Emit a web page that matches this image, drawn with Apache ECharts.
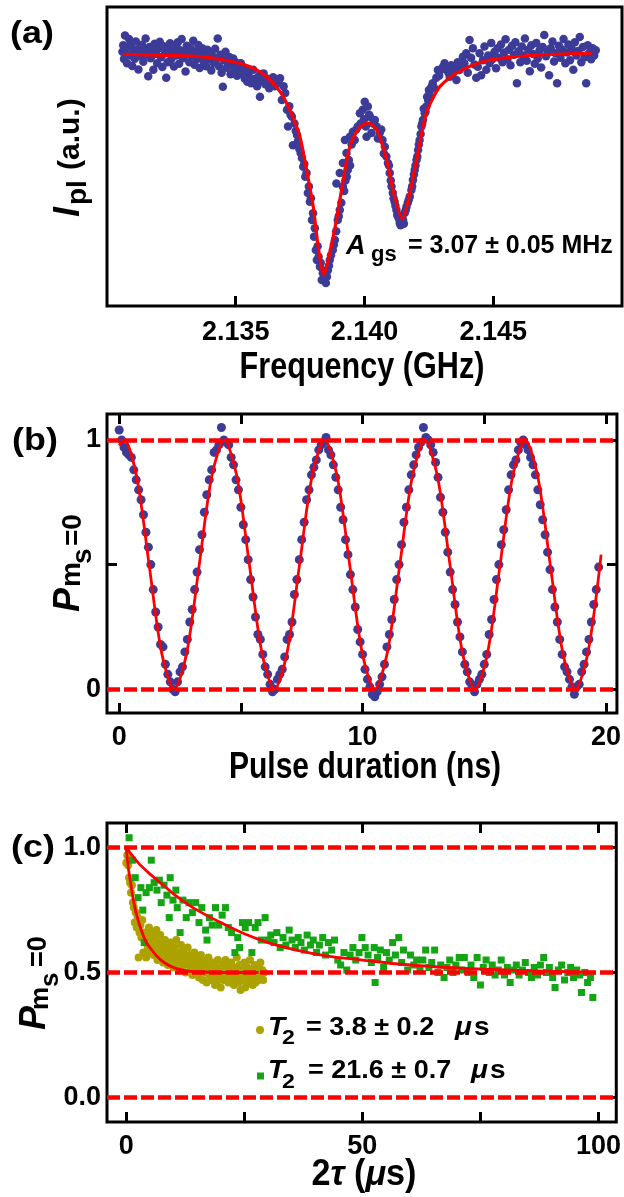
<!DOCTYPE html>
<html><head><meta charset="utf-8">
<script src="https://cdn.jsdelivr.net/npm/echarts@6.0.0/dist/echarts.min.js"></script>
<style>html,body{margin:0;padding:0;background:#fff}#c{width:624px;height:1197px}</style>
</head><body><div id="c"></div>
<script>
// ---------- Panel (a): ODMR spectrum, frequency (GHz) vs I_pl (a.u.) ----------
const freqTicks = [2.135, 2.140, 2.145];
const pointsA = [
[2.13060,.850],[2.13063,.872],[2.13066,.826],[2.13070,.905],[2.13074,.845],[2.13078,.812],[2.13082,.868],[2.13086,.893],[2.13090,.838],[2.13094,.880],
[2.13098,.803],[2.13103,.858],[2.13108,.827],[2.13112,.885],[2.13117,.848],[2.13122,.791],[2.13127,.862],[2.13131,.836],[2.13136,.874],[2.13141,.817],
[2.13146,.855],[2.13150,.895],[2.13155,.840],[2.13160,.768],[2.13165,.866],[2.13170,.829],[2.13175,.851],[2.13180,.790],[2.13185,.877],[2.13190,.843],
[2.13195,.812],[2.13200,.861],[2.13205,.884],[2.13210,.832],[2.13215,.799],[2.13220,.869],[2.13225,.845],[2.13230,.763],[2.13235,.815],[2.13240,.858],
[2.13245,.879],[2.13250,.826],[2.13255,.850],[2.13260,.801],[2.13265,.866],[2.13270,.838],[2.13275,.882],[2.13280,.810],[2.13285,.855],[2.13290,.893],
[2.13295,.829],[2.13300,.847],[2.13305,.784],[2.13310,.870],[2.13315,.842],[2.13320,.815],[2.13325,.862],[2.13330,.835],[2.13335,.887],[2.13340,.807],
[2.13345,.851],[2.13350,.827],[2.13355,.873],[2.13360,.796],[2.13365,.845],[2.13370,.862],[2.13375,.818],[2.13380,.838],[2.13385,.802],[2.13390,.857],
[2.13395,.826],[2.13400,.843],[2.13405,.788],[2.13410,.835],[2.13415,.812],[2.13420,.860],[2.13425,.826],[2.13430,.895],[2.13435,.802],[2.13440,.840],
[2.13445,.780],[2.13450,.733],[2.13455,.822],[2.13460,.850],[2.13465,.797],[2.13470,.812],[2.13475,.833],[2.13480,.775],[2.13485,.808],[2.13490,.828],
[2.13495,.790],[2.13500,.815],[2.13505,.770],[2.13510,.800],[2.13515,.785],[2.13520,.812],[2.13525,.777],[2.13530,.795],[2.13535,.760],[2.13540,.785],
[2.13545,.750],[2.13550,.772],[2.13555,.790],
[2.13560,.745],[2.13568,.790],[2.13575,.760],[2.13583,.735],[2.13590,.770],[2.13594,.700],[2.13600,.752],[2.13608,.778],[2.13615,.742],[2.13622,.760],
[2.13630,.728],[2.13638,.748],[2.13645,.765],[2.13652,.735],[2.13660,.758],[2.13665,.745],[2.13672,.762],[2.13679,.689],[2.13686,.735],[2.13692,.712],
[2.13699,.656],[2.13703,.600],[2.13708,.668],[2.13713,.640],[2.13718,.633],[2.13722,.538],[2.13728,.610],[2.13733,.585],[2.13738,.572],[2.13742,.552],
[2.13747,.525],[2.13752,.512],[2.13757,.495],[2.13762,.466],[2.13766,.475],[2.13770,.432],[2.13775,.445],[2.13780,.378],[2.13784,.400],[2.13788,.349],
[2.13792,.360],[2.13796,.288],[2.13800,.310],[2.13804,.232],[2.13807,.260],[2.13811,.187],[2.13815,.154],[2.13818,.200],[2.13822,.165],[2.13827,.131],
[2.13830,.145],[2.13834,.087],[2.13838,.110],[2.13842,.095],[2.13846,.118],[2.13850,.077],[2.13854,.098],[2.13858,.120],[2.13862,.135],[2.13865,.154],
[2.13870,.170],[2.13877,.187],[2.13881,.205],[2.13885,.221],[2.13890,.250],[2.13896,.288],[2.13900,.300],[2.13904,.321],[2.13910,.345],[2.13916,.399],
[2.13921,.385],[2.13926,.420],[2.13931,.432],[2.13935,.455],[2.13939,.488],[2.13944,.470],
[2.13891,.410],[2.13904,.445],[2.13916,.478],[2.13930,.512],[2.13924,.555],[2.13943,.566],[2.13955,.583],[2.13962,.555],[2.13974,.600],[2.13982,.645],
[2.13993,.656],[2.14001,.683],[2.14013,.667],[2.14021,.633],[2.14008,.566],[2.14027,.579],[2.14040,.622],[2.14047,.600],[2.14059,.579],[2.14070,.555],
[2.14079,.533],[2.14085,.500],[2.14091,.478],[2.14098,.445],[2.14105,.400],[2.14110,.378],[2.14117,.349],[2.14124,.321],[2.14130,.299],[2.14137,.278],
[2.14143,.285],[2.14150,.288],[2.14156,.311],[2.14163,.332],[2.14176,.366],[2.14182,.388],[2.14188,.421],[2.14195,.455],[2.14202,.488],[2.14208,.522],
[2.14214,.555],[2.14221,.600],[2.14227,.622],[2.14234,.645],[2.14240,.667],[2.14247,.689],[2.14253,.717],[2.14250,.722],[2.14260,.733],[2.14279,.763],
[2.14285,.789],[2.14305,.800],[2.14311,.812],[2.14331,.767],[2.14343,.778],[2.14357,.756],[2.14369,.789],[2.14382,.834],[2.14395,.845],[2.14408,.890],
[2.14421,.862],[2.14434,.763],
[2.13950,.540],[2.13968,.590],[2.13985,.610],[2.13998,.625],[2.14005,.600],[2.14018,.640],[2.14033,.610],[2.14052,.560],[2.14065,.590],[2.14075,.510],
[2.14095,.470],[2.14102,.420],[2.14113,.360],[2.14120,.335],[2.14127,.305],[2.14134,.292],[2.14140,.270],[2.14146,.300],[2.14153,.275],[2.14160,.320],
[2.14168,.345],[2.14172,.355],[2.14185,.400],[2.14192,.440],[2.14198,.470],[2.14205,.500],[2.14211,.540],[2.14218,.575],[2.14224,.610],[2.14230,.660],
[2.14237,.650],[2.14243,.700],[2.14256,.700],[2.14265,.745],[2.14270,.730],[2.14290,.770],[2.14298,.790],[2.14318,.800],[2.14325,.782],[2.14337,.805],
[2.14350,.790],[2.14362,.815],[2.14375,.800],[2.14388,.812],[2.14401,.780],[2.14414,.830],[2.14427,.808],
[2.14440,.800],[2.14447,.845],[2.14453,.772],[2.14460,.822],[2.14466,.868],[2.14473,.790],[2.14480,.838],[2.14486,.812],[2.14492,.880],[2.14498,.826],
[2.14505,.850],[2.14511,.795],[2.14517,.862],[2.14523,.830],[2.14530,.875],[2.14536,.815],[2.14542,.848],[2.14548,.892],[2.14555,.825],[2.14561,.857],
[2.14567,.805],[2.14573,.870],[2.14580,.840],[2.14586,.882],[2.14592,.745],[2.14598,.852],[2.14605,.815],[2.14611,.868],[2.14617,.838],[2.14623,.895],
[2.14630,.820],[2.14636,.857],[2.14642,.785],[2.14648,.872],[2.14655,.843],[2.14661,.810],[2.14667,.880],[2.14673,.828],[2.14680,.855],[2.14686,.798],
[2.14692,.866],[2.14698,.906],[2.14705,.835],[2.14711,.850],[2.14717,.772],[2.14723,.862],[2.14730,.885],[2.14736,.818],[2.14742,.845],[2.14748,.745],
[2.14755,.870],[2.14761,.830],[2.14767,.858],[2.14773,.893],[2.14780,.812],[2.14786,.848],[2.14792,.875],[2.14798,.822],[2.14805,.860],[2.14811,.790],
[2.14817,.882],[2.14823,.838],[2.14830,.853],[2.14836,.900],[2.14842,.815],[2.14848,.866],[2.14855,.832],[2.14861,.745],[2.14867,.872],[2.14873,.846],
[2.14880,.825],[2.14886,.862],[2.14892,.838],[2.14898,.855]
];
const fitA = [
[2.13062,.842],[2.13233,.838],[2.13362,.834],[2.13490,.817],[2.13555,.800],[2.13620,.767],[2.13672,.717],[2.13710,.656],[2.13749,.566],[2.13775,.455],
[2.13801,.332],[2.13820,.198],[2.13842,.104],[2.13865,.177],[2.13891,.288],[2.13924,.455],[2.13943,.533],[2.13970,.585],[2.13993,.605],[2.14013,.612],
[2.14048,.589],[2.14086,.488],[2.14117,.365],[2.14147,.291],[2.14176,.378],[2.14202,.488],[2.14240,.645],[2.14292,.733],[2.14357,.779],[2.14459,.817],
[2.14589,.834],[2.14740,.842],[2.14885,.846]
];

// ---------- Panel (b): Rabi oscillation, pulse duration (ns) vs P ----------
const pulseTicks = [0, 5, 10, 15, 20];
const pulseLabels = [0, 10, 20];
const probTicksB = [0, 0.5, 1];
const probLabelsB = [0, 1];
const refLinesB = [0, 1];
const pointsB = [
[0.0,1.04],[0.1,1.00],[0.2,.97],[0.3,.95],[0.4,.94],[0.5,.93],[0.6,.88],[0.7,.84],[0.8,.80],[0.9,.76],
[1.0,.70],[1.1,.63],[1.2,.57],[1.3,.50],[1.4,.40],[1.5,.31],[1.6,.25],[1.7,.18],[1.8,.17],[1.9,.10],
[2.0,.06],[2.1,.03],[2.2,.00],[2.3,-.01],[2.4,.03],[2.5,.07],[2.6,.09],[2.7,.15],[2.8,.20],[2.9,.27],
[3.0,.32],[3.1,.40],[3.2,.47],[3.3,.56],[3.4,.62],[3.5,.71],[3.6,.78],[3.7,.84],[3.8,.88],[3.9,.95],
[4.0,.96],[4.1,.98],[4.2,1.05],[4.3,1.00],[4.4,.99],[4.5,.98],[4.6,.93],[4.7,.90],[4.8,.84],[4.9,.80],
[5.0,.73],[5.1,.66],[5.2,.60],[5.3,.52],[5.4,.44],[5.5,.37],[5.6,.29],[5.7,.22],[5.8,.20],[5.9,.14],
[6.0,.09],[6.1,.06],[6.2,.02],[6.3,-.01],[6.4,.00],[6.5,.04],[6.6,.06],[6.7,.08],[6.8,.13],[6.9,.20],
[7.0,.22],[7.1,.27],[7.2,.38],[7.3,.44],[7.4,.52],[7.5,.60],[7.6,.67],[7.7,.76],[7.8,.80],[7.9,.86],
[8.0,.89],[8.1,.92],[8.2,.96],[8.3,.98],[8.4,.99],[8.5,1.01],[8.6,.96],[8.7,.94],[8.8,.90],[8.9,.85],
[9.0,.80],[9.1,.73],[9.2,.68],[9.3,.60],[9.4,.54],[9.5,.46],[9.6,.40],[9.7,.33],[9.8,.24],[9.9,.19],
[10.0,.14],[10.1,.08],[10.2,.04],[10.3,.01],[10.4,-.02],[10.5,-.03],[10.6,-.01],[10.7,.02],[10.8,.05],[10.9,.10],
[11.0,.17],[11.1,.22],[11.2,.28],[11.3,.36],[11.4,.44],[11.5,.50],[11.6,.58],[11.7,.67],[11.8,.73],[11.9,.80],
[12.0,.86],[12.1,.90],[12.2,.94],[12.3,.97],[12.4,.99],[12.5,1.05],[12.6,1.01],[12.7,1.00],[12.8,.98],[12.9,.95],
[13.0,.91],[13.1,.85],[13.2,.77],[13.3,.71],[13.4,.63],[13.5,.55],[13.6,.47],[13.7,.40],[13.8,.34],[13.9,.27],
[14.0,.21],[14.1,.15],[14.2,.10],[14.3,.07],[14.4,.03],[14.5,.01],[14.6,-.01],[14.7,.02],[14.8,.04],[14.9,.06],
[15.0,.10],[15.1,.14],[15.2,.22],[15.3,.28],[15.4,.36],[15.5,.44],[15.6,.50],[15.7,.58],[15.8,.64],[15.9,.72],
[16.0,.80],[16.1,.86],[16.2,.90],[16.3,.92],[16.4,.96],[16.5,.99],[16.6,1.00],[16.7,.98],[16.8,.96],[16.9,.93],
[17.0,.90],[17.1,.86],[17.2,.80],[17.3,.74],[17.4,.68],[17.5,.62],[17.6,.55],[17.7,.48],[17.8,.40],[17.9,.33],
[18.0,.27],[18.1,.20],[18.2,.14],[18.3,.09],[18.4,.07],[18.5,.04],[18.6,.01],[18.7,-.02],[18.8,.01],[18.9,.02],
[19.0,.07],[19.1,.10],[19.2,.15],[19.3,.20],[19.4,.27],[19.5,.34],[19.6,.40],[19.7,.49]
];
const fitB = [
[0.0,.977],[0.2,1.0],[0.715,.854],[1.23,.5],[1.745,.146],[2.26,0],[2.775,.146],[3.29,.5],[3.805,.854],[4.32,1],
[4.835,.854],[5.35,.5],[5.865,.146],[6.38,0],[6.895,.146],[7.41,.5],[7.925,.854],[8.44,1],[8.955,.854],[9.47,.5],
[9.985,.146],[10.5,0],[11.015,.146],[11.53,.5],[12.045,.854],[12.56,1],[13.075,.854],[13.59,.5],[14.105,.146],[14.62,0],
[15.135,.146],[15.65,.5],[16.165,.854],[16.68,1],[17.195,.854],[17.71,.5],[18.225,.146],[18.74,0],[19.255,.146],[19.8,.54]
];

// ---------- Panel (c): spin echo decay, 2tau (us) vs P ----------
const tauTicks = [0, 25, 50, 75, 100];
const tauLabels = [0, 50, 100];
const probTicksC = [0, 0.5, 1];
const refLinesC = [0, 0.5, 1];
const pointsYellow = [
[0.0,.94],[0.2,.97],[0.4,.93],[0.6,.88],[0.8,.86],[1.0,.82],[1.2,.85],[1.4,.78],[1.6,.76],[1.8,.70],
[2.0,.74],[2.2,.68],[2.4,.72],[2.6,.56],[2.8,.66],[3.0,.69],[3.2,.64],[3.4,.71],[3.6,.58],[3.8,.66],
[4.0,.62],[4.2,.56],[4.4,.65],[4.6,.60],[4.8,.68],[5.0,.63],[5.2,.58],[5.4,.66],[5.6,.61],[5.8,.57],
[6.0,.64],[6.2,.60],[6.4,.67],[6.6,.55],[6.8,.62],[7.0,.59],[7.2,.65],[7.4,.57],[7.6,.61],[7.8,.54],
[8.0,.60],[8.2,.63],[8.4,.56],[8.6,.59],[8.8,.53],[9.0,.61],[9.2,.57],[9.4,.62],[9.6,.55],[9.8,.58],
[10.0,.52],[10.2,.60],[10.4,.56],[10.6,.63],[10.8,.54],[11.0,.58],[11.2,.51],[11.4,.57],[11.6,.61],[11.8,.55],
[12.0,.59],[12.2,.53],[12.4,.57],[12.6,.50],[12.8,.55],[13.0,.60],[13.2,.54],[13.4,.57],[13.6,.52],[13.8,.56],
[14.0,.49],[14.2,.55],[14.4,.58],[14.6,.53],[14.8,.50],[15.0,.56],[15.2,.52],[15.4,.48],[15.6,.54],[15.8,.57],
[16.0,.51],[16.2,.47],[16.4,.53],[16.6,.55],[16.8,.50],[17.0,.46],[17.2,.52],[17.4,.56],[17.6,.49],[17.8,.53],
[18.0,.47],[18.2,.51],[18.4,.54],[18.6,.48],[18.8,.45],[19.0,.52],[19.2,.50],[19.4,.55],[19.6,.47],[19.8,.51],
[20.0,.44],[20.2,.49],[20.4,.53],[20.6,.47],[20.8,.50],[21.0,.55],[21.2,.48],[21.4,.52],[21.6,.46],[21.8,.51],
[22.0,.49],[22.2,.54],[22.4,.47],[22.6,.50],[22.8,.45],[23.0,.52],[23.2,.48],[23.4,.56],[23.6,.50],[23.8,.46],
[24.0,.53],[24.2,.43],[24.4,.49],[24.6,.51],[24.8,.47],[25.0,.54],[25.2,.44],[25.4,.50],[25.6,.52],[25.8,.46],
[26.0,.49],[26.2,.55],[26.4,.47],[26.6,.51],[26.8,.45],[27.0,.50],[27.2,.53],[27.4,.46],[27.6,.48],[27.8,.52],
[28.0,.47],[28.2,.50],[28.4,.54],[28.6,.48],[28.8,.51],[29.0,.47],[29.2,.50]
];
const pointsGreen = [
[0.6,1.04],[1.3,.95],[1.9,.88],[2.5,.80],[3.1,.84],[3.5,.75],[3.8,.62],[4.2,.82],[4.9,.84],[5.3,.95],
[5.9,.86],[6.5,.83],[7.0,.87],[7.4,.78],[8.0,.85],[8.6,.81],[9.1,.72],[9.3,.88],[9.9,.79],[10.5,.83],
[10.8,.76],[11.4,.66],[12.0,.79],[12.7,.72],[13.3,.78],[14.0,.74],[14.7,.78],[15.4,.70],[16.0,.76],[16.8,.67],
[17.1,.63],[17.6,.72],[18.2,.69],[18.9,.76],[19.6,.69],[20.3,.73],[21.0,.76],[21.6,.68],[22.3,.66],[23.0,.58],
[23.6,.64],[24.0,.60],[24.6,.70],[25.2,.68],[25.9,.70],[26.6,.58],[27.3,.68],[27.9,.70],[28.6,.63],[29.4,.72],
[30.0,.63],[30.6,.65],[31.3,.62],[31.9,.66],[32.6,.60],[33.2,.64],[33.8,.61],[34.5,.67],[35.1,.63],[35.8,.60],
[36.4,.64],[37.0,.62],[37.7,.59],[38.3,.65],[39.0,.61],[39.6,.63],[40.3,.58],[40.9,.61],[41.6,.64],[42.2,.57],
[42.8,.62],[43.5,.59],[44.1,.63],[44.8,.55],[45.4,.53],[46.1,.58],[46.7,.51],[47.4,.57],[48.0,.60],[48.6,.55],
[49.3,.58],[49.9,.64],[50.6,.60],[51.2,.57],[51.9,.54],[52.5,.60],[52.7,.46],[53.2,.56],[53.8,.59],[54.5,.52],
[55.1,.58],[55.7,.55],[56.4,.62],[57.0,.57],[57.7,.64],[58.3,.54],[58.7,.59],[59.6,.51],[60.2,.57],[60.9,.53],
[61.5,.55],[62.2,.51],[62.8,.55],[63.4,.59],[64.1,.52],[64.7,.54],[65.3,.59],[66.0,.50],[66.6,.53],[67.3,.48],
[67.9,.52],[68.5,.55],[69.2,.50],[69.8,.53],[70.5,.56],[71.1,.51],[71.6,.56],[72.4,.50],[73.0,.53],[73.6,.48],
[74.3,.56],[75.0,.45],[75.6,.52],[76.2,.55],[76.9,.50],[77.5,.53],[78.1,.49],[78.8,.51],[79.4,.55],[80.1,.49],
[80.7,.52],[81.3,.46],[82.0,.51],[82.6,.53],[83.2,.49],[83.9,.51],[84.5,.54],[85.2,.50],[85.8,.48],[86.4,.52],
[87.1,.49],[87.7,.53],[88.4,.56],[89.0,.50],[89.6,.52],[90.3,.48],[90.8,.44],[91.5,.51],[92.2,.53],[92.8,.47],
[93.5,.50],[94.1,.52],[94.7,.48],[95.4,.51],[96.0,.49],[96.4,.42],[97.1,.50],[97.7,.46],[98.3,.48],[98.8,.40]
];
const fitYellow = [
[0,1.0],[0.25,.95],[0.5,.91],[1.0,.85],[1.5,.79],[2.0,.745],[2.5,.71],[3.0,.68],[4.0,.63],[5.0,.60],
[6.5,.565],[8,.54],[10,.52],[12.5,.508],[15,.503],[20,.50],[25,.50],[28,.50]
];
const fitGreen = [
[0,1.0],[2.5,.94],[5,.895],[7.5,.855],[10,.815],[12.5,.78],[15,.75],[20,.70],[25,.655],[30,.62],
[36,.59],[43,.565],[50,.55],[57,.535],[64,.525],[71,.517],[78,.512],[85,.507],[92,.504],[99,.501]
];

// ---------- styling ----------
const FONT = "'Liberation Sans', Arial, Helvetica, sans-serif";
const BLUE = '#3c3c98', YEL = '#aca200', GRN = '#14a514', RED = '#ff0000';
const TICK = {show:true, inside:true, length:10, lineStyle:{color:'#000', width:3}};
const LBL = {color:'#000', fontFamily:FONT, fontWeight:'bold', fontSize:27};

function ax(g, min, max, pos, ticks, labels, fmt, margin) {
  return {gridIndex:g, type:'value', position:pos, min, max,
    axisLine:{show:false, onZero:false}, splitLine:{show:false},
    axisTick: ticks ? Object.assign({customValues:ticks}, TICK) : {show:false},
    axisLabel: labels ? Object.assign({show:true, customValues:labels, formatter:fmt, margin}, LBL) : {show:false}};
}
const dashed = vals => ({silent:true, symbol:'none', label:{show:false},
  lineStyle:{color:RED, width:4.5, type:[13,4]}, data: vals.map(v => ({yAxis:v}))});

// text helper: unrotated -> (x, baseline); rotated -> (baseline x, start y)
function T(x, y, text, size, o) {
  o = o || {};
  const rot = o.rot || 0;
  const tx = rot ? x - 0.3465*size : x;
  const ty = rot ? y : y - 0.3465*size;
  const al = o.align || 'left';
  return {type:'text', x:tx, y:ty, rotation:rot, scaleX:o.sx || 1, z:100,
    style:{text, fontSize:size, fontWeight:'bold', fontStyle:o.it ? 'italic' : 'normal', fontFamily:FONT,
      fill:'#000', align:al, textAlign:al, verticalAlign:'middle', textVerticalAlign:'middle'}};
}
const R = Math.PI/2;

const graphic = [
  T(32, 45, '(a)', 32, {align:'center', sx:1.12}),
  T(35, 452, '(b)', 32, {align:'center', sx:1.12}),
  T(33, 859, '(c)', 32, {align:'center', sx:1.12}),
  // y titles
  T(82, 217, 'I', 36, {rot:R, it:true}),
  T(88, 205, 'pl', 28, {rot:R}),
  T(81, 170, '(a.u.)', 30, {rot:R}),
  T(81.5, 612, 'P', 36, {rot:R, it:true}),
  T(81.5, 587, 'm', 28, {rot:R}),
  T(93, 564, 's', 28, {rot:R}),
  T(83, 546, '=0', 28, {rot:R}),
  T(47.8, 1030, 'P', 36, {rot:R, it:true}),
  T(49.7, 1010, 'm', 26, {rot:R}),
  T(59.7, 987, 's', 26, {rot:R}),
  T(47.8, 967, '=0', 27, {rot:R}),
  // x titles
  T(362, 381, 'Frequency (GHz)', 36, {align:'center', sx:0.85}),
  T(365, 781, 'Pulse duration (ns)', 36, {align:'center', sx:0.835}),
  {type:'text', x:364, y:1188 - 0.3465*36, scaleX:0.95, z:100,
   style:{text:'{b|2}{i|τ}{b| (}{i|μ}{b|s)}', align:'center', textAlign:'center', verticalAlign:'middle', textVerticalAlign:'middle',
     rich:{b:{fontFamily:FONT, fontWeight:'bold', fontSize:36, fill:'#000'}, i:{fontFamily:FONT, fontWeight:'bold', fontStyle:'italic', fontSize:36, fill:'#000'}}}},
  // annotation (a)
  T(346, 256, 'A', 27, {it:true}),
  T(371, 263, 'gs', 22),
  T(408, 255, '= 3.07 ± 0.05 MHz', 25),
  // legend (c)
  {type:'circle', z:100, shape:{cx:260, cy:1030, r:4}, style:{fill:YEL}},
  T(268, 1037, 'T', 25, {it:true, sx:1.12}),
  T(282, 1045, '2', 21, {sx:1.1}),
  T(306, 1037, '= 3.8 ± 0.2', 25, {sx:1.08}),
  T(455, 1037, 'μ', 25, {it:true, sx:1.12}),
  T(474, 1037, 's', 25, {sx:1.12}),
  {type:'rect', z:100, shape:{x:257, y:1072.5, width:7, height:7}, style:{fill:GRN}},
  T(268, 1080, 'T', 25, {it:true, sx:1.12}),
  T(282, 1089, '2', 21, {sx:1.1}),
  T(308, 1080, '= 21.6 ± 0.7', 25, {sx:1.08}),
  T(471, 1080, 'μ', 25, {it:true, sx:1.12}),
  T(490, 1080, 's', 25, {sx:1.12})
];

const f3 = v => Number(v).toFixed(3);
const f0 = v => String(Math.round(v));
const f1 = v => Number(v).toFixed(1);
const gridStyle = {show:true, borderColor:'#000', borderWidth:3, backgroundColor:'transparent'};

const option = {
  animation:false,
  backgroundColor:'#fff',
  grid:[
    Object.assign({left:107, top:7, width:515, height:299}, gridStyle),
    Object.assign({left:107, top:414, width:515, height:299}, gridStyle),
    Object.assign({left:107, top:823, width:515, height:299}, gridStyle)
  ],
  xAxis:[
    ax(0, 2.130, 2.150, 'bottom', freqTicks, freqTicks, f3, 13),
    ax(0, 2.130, 2.150, 'top', null, null),
    ax(1, -0.5, 20.45, 'bottom', pulseTicks, pulseLabels, f0, 11),
    ax(1, -0.5, 20.45, 'top', pulseTicks, null),
    ax(2, -4.08, 103.77, 'bottom', tauTicks, tauLabels, f0, 11),
    ax(2, -4.08, 103.77, 'top', tauTicks, null)
  ],
  yAxis:[
    ax(0, 0, 1, 'left', null, null),
    ax(0, 0, 1, 'right', null, null),
    ax(1, -0.095, 1.104, 'left', probTicksB, probLabelsB, f0, 6),
    ax(1, -0.095, 1.104, 'right', probTicksB, null),
    ax(2, -0.099, 1.099, 'left', probTicksC, probTicksC, f1, 6),
    ax(2, -0.099, 1.099, 'right', probTicksC, null)
  ],
  graphic,
  series:[
    {type:'scatter', xAxisIndex:0, yAxisIndex:0, data:pointsA, symbolSize:8.5, itemStyle:{color:BLUE, opacity:1}, z:2},
    {type:'line', xAxisIndex:0, yAxisIndex:0, data:fitA, smooth:0.25, showSymbol:false, lineStyle:{color:RED, width:3.2}, z:3},
    {type:'scatter', xAxisIndex:2, yAxisIndex:2, data:pointsB, symbolSize:9, itemStyle:{color:BLUE, opacity:1}, z:2},
    {type:'line', xAxisIndex:2, yAxisIndex:2, data:fitB, smooth:0.3, showSymbol:false, lineStyle:{color:RED, width:2.8}, z:3,
      markLine:dashed(refLinesB)},
    {type:'scatter', xAxisIndex:4, yAxisIndex:4, data:pointsYellow, symbolSize:8, itemStyle:{color:YEL, opacity:1}, z:2},
    {type:'scatter', xAxisIndex:4, yAxisIndex:4, data:pointsGreen, symbol:'rect', symbolSize:7, itemStyle:{color:GRN, opacity:1}, z:2},
    {type:'line', xAxisIndex:4, yAxisIndex:4, data:fitYellow, smooth:0.3, showSymbol:false, lineStyle:{color:RED, width:2.8}, z:3,
      markLine:dashed(refLinesC)},
    {type:'line', xAxisIndex:4, yAxisIndex:4, data:fitGreen, smooth:0.3, showSymbol:false, lineStyle:{color:RED, width:2.8}, z:3}
  ]
};
const chart = echarts.init(document.getElementById('c'), null, {renderer:'canvas'});
chart.setOption(option);
</script></body></html>
